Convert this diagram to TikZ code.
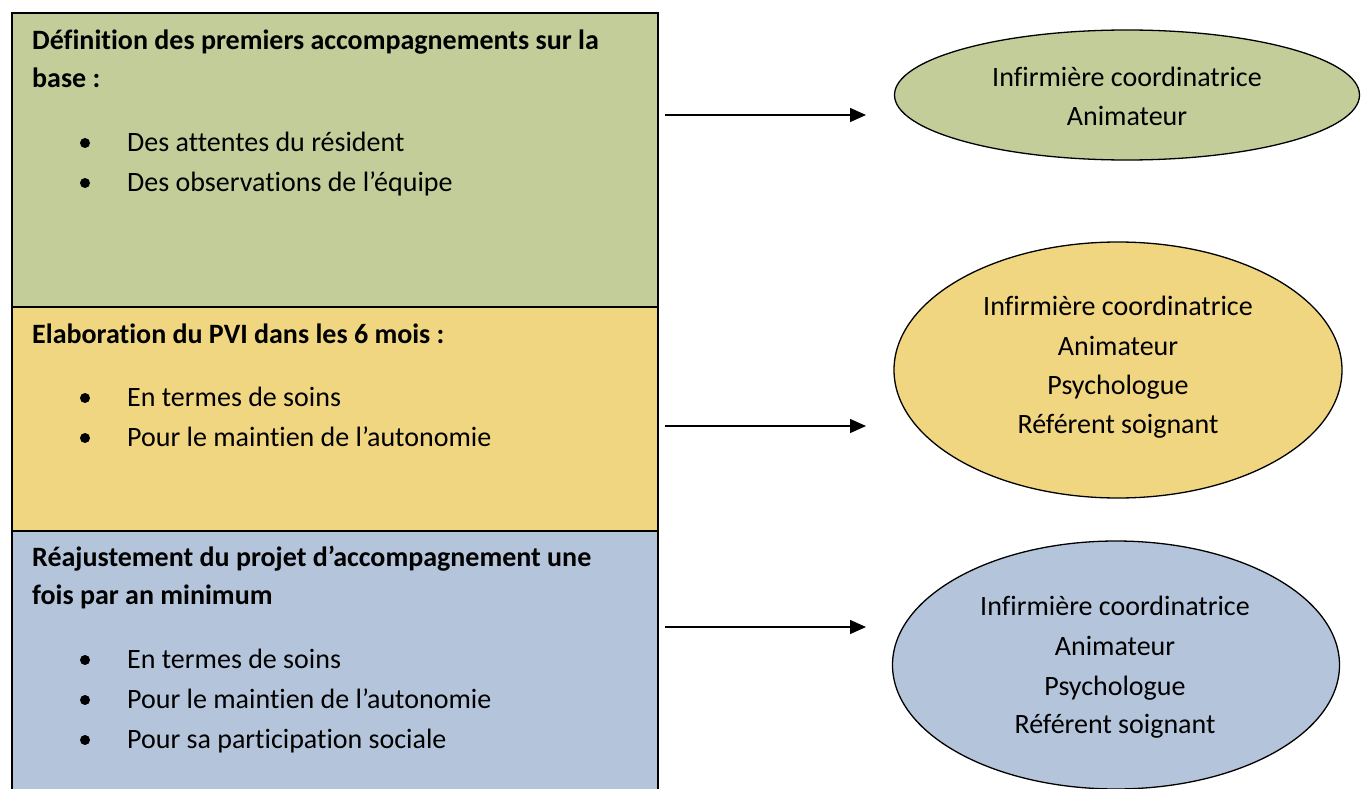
\documentclass[tikz,border=0pt]{standalone}
\usepackage{fontspec}
\setmainfont{Carlito}[Ligatures=NoCommon]
\usepackage{tikz}
\usetikzlibrary{positioning, arrows.meta, shapes.geometric}
\definecolor{phase-a}{RGB}{194, 205, 153}
\definecolor{phase-b}{RGB}{240, 214, 128}
\definecolor{phase-c}{RGB}{180, 197, 219}
\tikzstyle{arrow} = [black, -{Triangle[length=16pt, width=14pt]}, line width=1.4pt]
\tikzstyle{phasebox} = [draw=black, line width=1.6pt, rectangle, anchor=north west, minimum width=646pt, inner sep=0]
\tikzstyle{titletext} = [anchor=base west, inner sep=0, font=\fontsize{28pt}{28pt}\bfseries]
\tikzstyle{itemtext} = [anchor=base west, inner sep=0, font=\fontsize{28pt}{28pt}\selectfont]
\tikzstyle{itemdot} = [circle, fill=black, minimum size=10pt, inner sep=0]
\tikzstyle{teamtext} = [anchor=base, inner sep=0, font=\fontsize{28pt}{28pt}\selectfont]
\newcommand{\tikzphasenode}[2]{\node[phasebox, fill=#1, minimum height=#2]}
\newcommand{\tikzteamnode}[3]{\node[
  draw=black, line width=1.3pt, ellipse, fill=#1, minimum width=#2, minimum height=#3, inner sep=0
]}
\newcommand{\tikzitem}[3]{%
  \node[itemtext] (#1) at (127, #2) {#3};
  \node[itemdot] (#1-dot) at ([shift={(-42,-8)}]#1.base west) {};
}

\begin{document}
\begin{tikzpicture}[x=1pt, y=-1pt]
    \useasboundingbox (0,0) rectangle (1365,789);

    % phases
    \tikzphasenode{phase-a}{294pt} (phase1) at (11,12)  {};
    \tikzphasenode{phase-b}{224pt} (phase2) at (11,306) {};
    \tikzphasenode{phase-c}{265pt} (phase3) at (11,530) {};

    % phase texts
    \node[titletext] (title1a) at (32,50)  {Définition des premiers accompagnements sur la};
    \node[titletext] (title1b) at (32,88)  {base :};
    \tikzitem{item1a}{151}{Des attentes du résident}
    \tikzitem{item1b}{191}{Des observations de l’équipe}

    \node[titletext] (title2a) at (32,343) {Elaboration du PVI dans les 6 mois :};
    \tikzitem{item2a}{406}{En termes de soins}
    \tikzitem{item2b}{446}{Pour le maintien de l’autonomie}

    \node[titletext] (title3a) at (32,566) {Réajustement du projet d’accompagnement une};
    \node[titletext] (title3b) at (32,604) {fois par an minimum};
    \tikzitem{item3a}{668}{En termes de soins}
    \tikzitem{item3b}{708}{Pour le maintien de l’autonomie}
    \tikzitem{item3c}{748}{Pour sa participation sociale}

    % teams
    \tikzteamnode{phase-a}{465pt}{130pt} (team1) at (1127,95)  {};
    \tikzteamnode{phase-b}{448pt}{256pt} (team2) at (1118,370) {};
    \tikzteamnode{phase-c}{447pt}{248pt} (team3) at (1116,665) {};

    \node[teamtext] (team1a) at (1127,87)  {Infirmière coordinatrice};
    \node[teamtext] (team1b) at (1127,125) {Animateur};

    \node[teamtext] (team2a) at (1118,315) {Infirmière coordinatrice};
    \node[teamtext] (team2b) at (1118,355) {Animateur};
    \node[teamtext] (team2c) at (1118,394) {Psychologue};
    \node[teamtext] (team2d) at (1118,433) {Référent soignant};

    \node[teamtext] (team3a) at (1115,615) {Infirmière coordinatrice};
    \node[teamtext] (team3b) at (1115,655) {Animateur};
    \node[teamtext] (team3c) at (1115,695) {Psychologue};
    \node[teamtext] (team3d) at (1115,733) {Référent soignant};

    % arrows
    \coordinate (from1) at (665,115);
    \coordinate (to1)   at (866,115);
    \coordinate (from2) at (665,426);
    \coordinate (to2)   at (866,426);
    \coordinate (from3) at (665,627);
    \coordinate (to3)   at (866,627);
    \draw[arrow] (from1) -- (to1);
    \draw[arrow] (from2) -- (to2);
    \draw[arrow] (from3) -- (to3);
\end{tikzpicture}
\end{document}
